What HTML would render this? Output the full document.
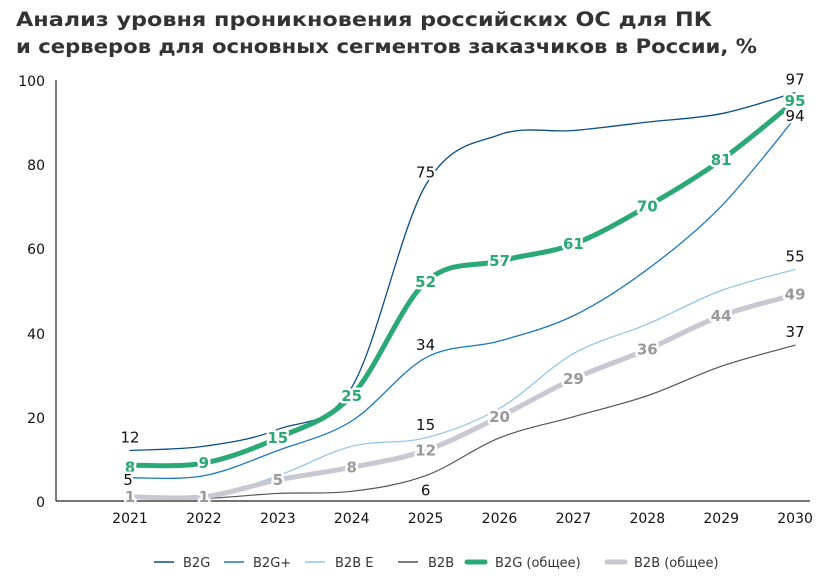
<!DOCTYPE html>
<html><head><meta charset="utf-8"><style>
body{margin:0;background:#fff;width:840px;height:577px;overflow:hidden;font-family:"DejaVu Sans",sans-serif}
</style></head><body>
<svg id="s" width="840" height="577" xmlns="http://www.w3.org/2000/svg" font-family="DejaVu Sans, Liberation Sans, sans-serif">
<text x="16" y="26" font-size="19.5" font-weight="bold" fill="#333" textLength="696" lengthAdjust="spacingAndGlyphs">Анализ уровня проникновения российских ОС для ПК</text>
<text x="16" y="53" font-size="19.5" font-weight="bold" fill="#333" textLength="741" lengthAdjust="spacingAndGlyphs">и серверов для основных сегментов заказчиков в России, %</text>
<line x1="56" y1="80" x2="56" y2="501" stroke="#222" stroke-width="1.2"/>
<line x1="56" y1="501" x2="810" y2="501" stroke="#222" stroke-width="1.2"/>
<g font-size="14" fill="#111" text-anchor="end">
<text x="45" y="86">100</text><text x="45" y="170">80</text><text x="45" y="254">60</text>
<text x="45" y="339">40</text><text x="45" y="423">20</text><text x="45" y="507">0</text>
</g>
<g id="xl" font-size="14" fill="#111" text-anchor="middle"></g>
<g id="lines"></g>
<g id="labs"></g>
<g font-size="13" fill="#333">
<line x1="154" y1="562" x2="174" y2="562" stroke="#0a4f87" stroke-width="1.5"/><text x="183" y="567">B2G</text>
<line x1="224" y1="562" x2="244" y2="562" stroke="#1a78c2" stroke-width="1.5"/><text x="253" y="567">B2G+</text>
<line x1="305" y1="562" x2="325" y2="562" stroke="#8cc4e8" stroke-width="1.5"/><text x="335" y="567">B2B E</text>
<line x1="398" y1="562" x2="418" y2="562" stroke="#555" stroke-width="1.5"/><text x="428" y="567">B2B</text>
<line x1="467" y1="562" x2="485" y2="562" stroke="#2aa876" stroke-width="5" stroke-linecap="round"/><text x="495" y="567">B2G (общее)</text>
<line x1="607" y1="562" x2="625" y2="562" stroke="#c8c8d2" stroke-width="5" stroke-linecap="round"/><text x="634" y="567">B2B (общее)</text>
</g>
</svg>
<script>
const X=i=>130+i*73.9, Y=v=>501-v*4.21;
const NS="http://www.w3.org/2000/svg";
function el(t,a,p,txt){const e=document.createElementNS(NS,t);for(const k in a)e.setAttribute(k,a[k]);if(txt!==undefined)e.textContent=txt;document.getElementById(p).appendChild(e);return e;}
for(let i=0;i<10;i++)el("text",{x:X(i),y:523},"xl",2021+i);
function path(d){const p=d.map((v,i)=>[X(i),Y(v)]);let s="M"+p[0];for(let i=0;i<p.length-1;i++){const p0=p[i-1]||p[i],p1=p[i],p2=p[i+1],p3=p[i+2]||p2;const c1=[p1[0]+(p2[0]-p0[0])/6,p1[1]+(p2[1]-p0[1])/6],c2=[p2[0]-(p3[0]-p1[0])/6,p2[1]-(p3[1]-p1[1])/6];s+="C"+c1+" "+c2+" "+p2;}return s;}
const S=[
[[0.7,0.6,1.8,2.3,6,15,20,25,32,37],"#555",1.2],
[[0.8,0.8,6,13,15,22,35,42,50,55],"#8cc4e8",1.2],
[[5.5,6,12,19,34,38,44,55,70,91],"#1a78c2",1.3],
[[12,13,17,27,75,87,88,90,92,97],"#0a4f87",1.3],
[[1,1,5,8,12,20,29,36,44,49],"#c8c8d2",5],
[[8.5,9,15,25,52,57,61,70,81,95],"#2aa876",5]];
S.forEach(s=>el("path",{d:path(s[0]),fill:"none",stroke:s[1],"stroke-width":s[2],"stroke-linecap":"round"},"lines"));
const halo={stroke:"#fff","stroke-width":5,"paint-order":"stroke","stroke-linejoin":"round"};
function lab(i,v,t,c,b,dy,dx){el("text",Object.assign({x:X(i)+(dx||0),y:Y(v)+dy,"font-size":15,"font-weight":b?"bold":"normal",fill:c,"text-anchor":"middle"},halo),"labs",t);}
[8,9,15,25,52,57,61,70,81,95].forEach((v,i)=>lab(i,v,v,"#2aa876",1,5));
[1,1,5,8,12,20,29,36,44,49].forEach((v,i)=>lab(i,v,v,"#999",1,5));
lab(0,12,"12","#111",0,-8);lab(4,75,"75","#111",0,-8);lab(9,97,"97","#111",0,-8);
lab(0,5,"5","#111",0,5,-2);lab(4,34,"34","#111",0,-8);lab(9,91,"94","#111",0,3,0);
lab(4,15,"15","#111",0,-8);lab(9,55,"55","#111",0,-8);
lab(4,6,"6","#111",0,20);lab(9,37,"37","#111",0,-8);
</script>
</body></html>
